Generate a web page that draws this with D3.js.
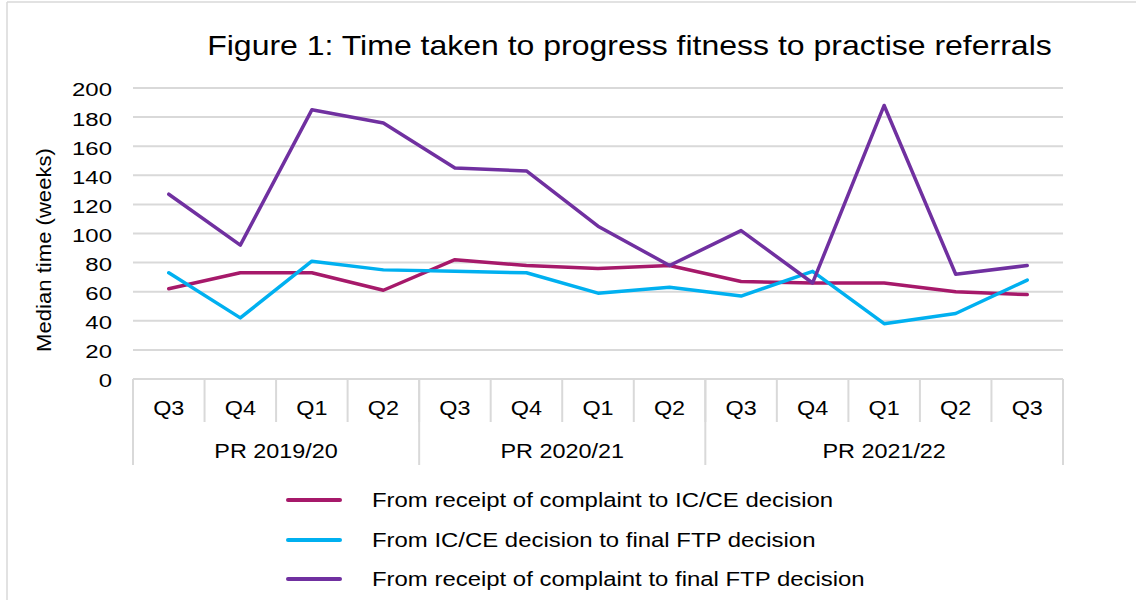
<!DOCTYPE html>
<html>
<head>
<meta charset="utf-8">
<script src="https://cdn.jsdelivr.net/npm/d3@7"></script>
<style>
  html, body { margin: 0; padding: 0; background: #fff; }
  svg { display: block; font-family: "Liberation Sans", Arial, sans-serif; }
</style>
</head>
<body>
<svg id="chart" width="1136" height="600"></svg>
<script>
// ---- Data ----
const quarters = ["Q3", "Q4", "Q1", "Q2", "Q3", "Q4", "Q1", "Q2", "Q3", "Q4", "Q1", "Q2", "Q3"];
const years = ["PR 2019/20", "PR 2020/21", "PR 2021/22"];
const yearSpans = [4, 4, 5];
const yTicks = [0, 20, 40, 60, 80, 100, 120, 140, 160, 180, 200];
const complaintToICCE = [62, 73, 73, 61, 82, 78, 76, 78, 67, 66, 66, 60, 58];
const icceToFinal = [73, 42, 81, 75, 74, 73, 59, 63, 57, 74, 38, 45, 68];
const complaintToFinal = [127, 92, 185, 176, 145, 143, 105, 78, 102, 66, 188, 72, 78];
const seriesNames = [
  "From receipt of complaint to IC/CE decision",
  "From IC/CE decision to final FTP decision",
  "From receipt of complaint to final FTP decision"
];
const seriesColors = ["#A6196A", "#00B0F0", "#7030A0"];
const title = "Figure 1: Time taken to progress fitness to practise referrals";
const yTitle = "Median time (weeks)";

const series = [complaintToICCE, icceToFinal, complaintToFinal];

// ---- Layout ----
const svg = d3.select("#chart");
const plot = { left: 133, right: 1063, top: 88, bottom: 379 };
const gridColor = "#d9d9d9";

// widen glyphs horizontally around each text's anchor x
function stretch(sel, k) {
  sel.each(function () {
    const X = +(this.getAttribute("x") || 0);
    d3.select(this).attr("transform", `translate(${X * (1 - k)},0) scale(${k},1)`);
  });
}

// chart border (partial frame)
svg.append("line").attr("x1", 7).attr("x2", 7).attr("y1", 2).attr("y2", 600)
  .attr("stroke", gridColor).attr("stroke-width", 1.5);
svg.append("line").attr("x1", 7).attr("x2", 1136).attr("y1", 2).attr("y2", 2)
  .attr("stroke", gridColor).attr("stroke-width", 1.5);

const idx = quarters.map((q, i) => i);
const x = d3.scaleBand().domain(idx).range([plot.left, plot.right]).paddingInner(0).paddingOuter(0);
const y = d3.scaleLinear().domain([0, 200]).range([plot.bottom, plot.top]);

// title
svg.append("text").attr("x", 629.5).attr("y", 55).attr("text-anchor", "middle")
  .attr("font-size", 27).attr("fill", "#000").text(title)
  .call(sel => { const w = sel.node().getComputedTextLength(); stretch(sel, 845 / w); });

// gridlines
svg.append("g").selectAll("line").data(yTicks).join("line")
  .attr("x1", plot.left).attr("x2", plot.right)
  .attr("y1", d => y(d)).attr("y2", d => y(d))
  .attr("stroke", gridColor).attr("stroke-width", 2);

// y axis labels
const yAxis = d3.axisLeft(y).tickValues(yTicks).tickSize(0).tickPadding(0);
const gy = svg.append("g").attr("transform", `translate(${112},2)`).call(yAxis);
gy.select(".domain").remove();
gy.selectAll("text").attr("font-size", 18.5).attr("fill", "#000")
  .attr("font-family", "Liberation Sans, Arial, sans-serif")
  .call(sel => {
    const w = gy.selectAll("text").nodes().find(n => n.textContent === "200").getComputedTextLength();
    stretch(sel, 40 / w);
  });

// y title
const yt = svg.append("text").attr("text-anchor", "middle").attr("font-size", 19.5).attr("fill", "#000").text(yTitle);
const ytw = yt.node().getComputedTextLength();
yt.attr("transform", `translate(51,${250}) rotate(-90) scale(${204 / ytw},1)`);

// category axis box
const gx = svg.append("g");
const qBottom = 422, gBottom = 465;
gx.selectAll("line.q").data(idx.slice(1)).join("line")
  .attr("x1", d => x(d)).attr("x2", d => x(d))
  .attr("y1", plot.bottom).attr("y2", qBottom)
  .attr("stroke", gridColor).attr("stroke-width", 2);
let cum = [0];
yearSpans.forEach((s, i) => cum.push(cum[i] + s));
gx.selectAll("line.g").data(cum).join("line")
  .attr("x1", d => d < quarters.length ? x(d) : plot.right)
  .attr("x2", d => d < quarters.length ? x(d) : plot.right)
  .attr("y1", plot.bottom).attr("y2", gBottom)
  .attr("stroke", gridColor).attr("stroke-width", 2);
gx.selectAll("text.q").data(quarters).join("text")
  .attr("x", (d, i) => x(i) + x.bandwidth() / 2).attr("y", 415)
  .attr("text-anchor", "middle").attr("font-size", 19.5).attr("fill", "#000").text(d => d)
  .call(stretch, 1.2);
gx.selectAll("text.g").data(years).join("text")
  .attr("x", (d, i) => {
    const a = x(cum[i]);
    const b = cum[i + 1] < quarters.length ? x(cum[i + 1]) : plot.right;
    return (a + b) / 2;
  })
  .attr("y", 458).attr("text-anchor", "middle").attr("font-size", 19.5).attr("fill", "#000").text(d => d)
  .call(stretch, 1.2);

// lines
const line = d3.line().x((d, i) => x(i) + x.bandwidth() / 2).y(d => y(d));
svg.append("g").selectAll("path").data(series).join("path")
  .attr("d", d => line(d)).attr("fill", "none")
  .attr("stroke", (d, i) => seriesColors[i]).attr("stroke-width", 3.5)
  .attr("stroke-linejoin", "round").attr("stroke-linecap", "round");

// legend
const legY = [500, 540, 579];
const leg = svg.append("g");
leg.selectAll("line").data(seriesNames).join("line")
  .attr("x1", 288).attr("x2", 340)
  .attr("y1", (d, i) => legY[i]).attr("y2", (d, i) => legY[i])
  .attr("stroke", (d, i) => seriesColors[i]).attr("stroke-width", 4).attr("stroke-linecap", "round");
const legText = leg.selectAll("text").data(seriesNames).join("text")
  .attr("x", 372).attr("y", (d, i) => legY[i] + 7)
  .attr("font-size", 19.5).attr("fill", "#000").text(d => d);
const lastW = legText.nodes()[2].getComputedTextLength();
legText.call(stretch, 493 / lastW);
</script>
</body>
</html>
